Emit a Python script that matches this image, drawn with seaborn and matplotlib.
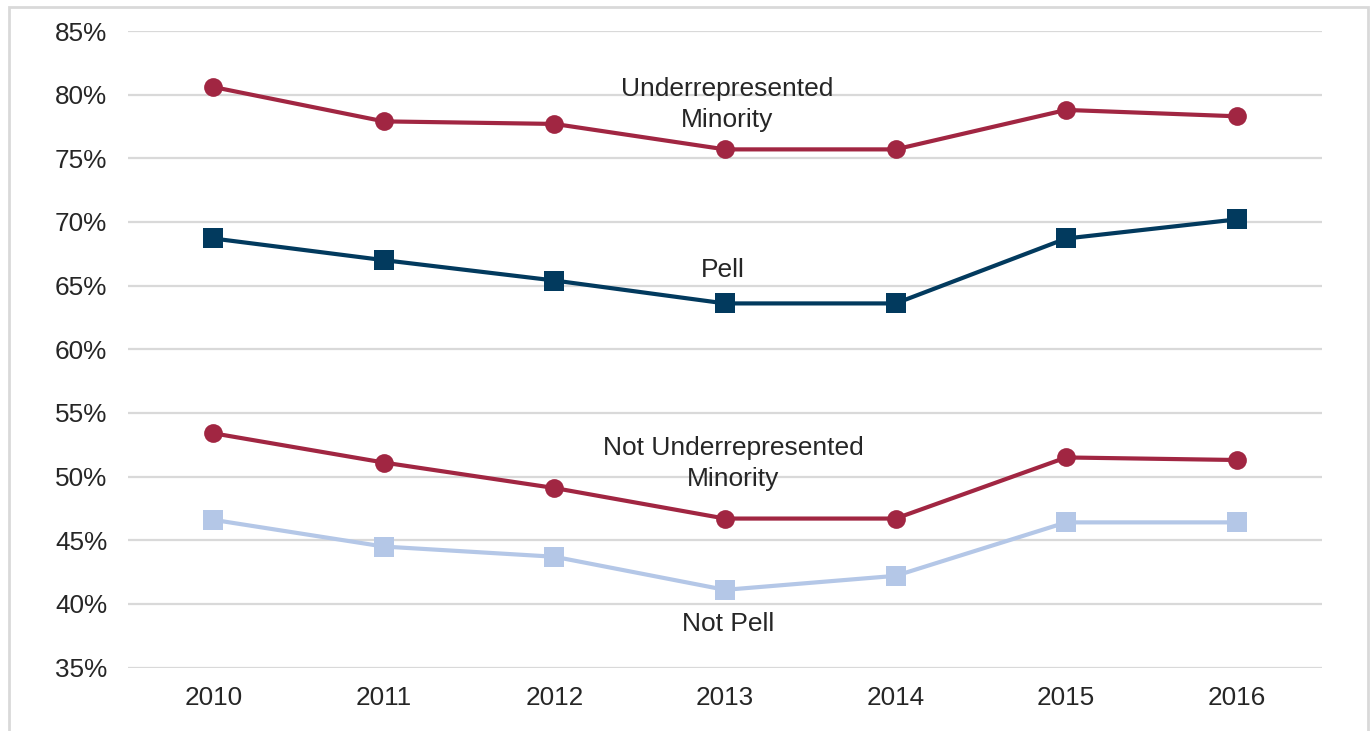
import matplotlib
matplotlib.use("Agg")
import matplotlib.pyplot as plt
import matplotlib.patches as mpatches
from matplotlib.ticker import FuncFormatter, MultipleLocator
import seaborn as sns
import pandas as pd

years = ["2010", "2011", "2012", "2013", "2014", "2015", "2016"]
urm = [80.6, 77.9, 77.7, 75.7, 75.7, 78.8, 78.3]
pell = [68.7, 67.0, 65.4, 63.6, 63.6, 68.7, 70.2]
not_urm = [53.4, 51.1, 49.1, 46.7, 46.7, 51.5, 51.3]
not_pell = [46.6, 44.5, 43.7, 41.1, 42.2, 46.4, 46.4]

series_names = ["Underrepresented Minority", "Pell", "Not Underrepresented Minority", "Not Pell"]
series_values = [urm, pell, not_urm, not_pell]
series_colors = ["#A12642", "#023A5E", "#A12642", "#B4C7E7"]
series_markers = ["o", "s", "o", "s"]
series_msize = [13.5, 14.5, 13.5, 14.5]

labels_text = ["Underrepresented\nMinority", "Pell", "Not Underrepresented\nMinority", "Not Pell"]
labels_pos = [(3.01, 79.25), (2.99, 66.2), (3.05, 51.0), (3.02, 38.4)]

sns.set_theme(style="white")
plt.rcParams["font.family"] = ["Liberation Sans", "DejaVu Sans"]

fig = plt.figure(figsize=(13.72, 7.31), dpi=100)
ax = fig.add_axes([128 / 1372, 1 - 667.5 / 731, (1322 - 128) / 1372, (667.5 - 31) / 731])

for name, vals, col, mk, ms in zip(series_names, series_values, series_colors,
                                   series_markers, series_msize):
    df = pd.DataFrame({"year": list(range(len(years))), "value": vals})
    sns.lineplot(data=df, x="year", y="value", ax=ax, color=col, linewidth=3.0,
                 marker=mk, markersize=ms, markeredgewidth=0, zorder=3)

for txt, (x, y) in zip(labels_text, labels_pos):
    ax.text(x, y, txt, ha="center", va="center", fontsize=19, color="#262626",
            linespacing=1.38, zorder=4)

ax.set_xlim(-0.5, len(years) - 0.5)
ax.set_ylim(35, 85)
ax.set_xticks(range(len(years)))
ax.set_xticklabels(years)
ax.yaxis.set_major_locator(MultipleLocator(5))
ax.yaxis.set_major_formatter(FuncFormatter(lambda v, p: f"{v:.0f}%"))
ax.set_xlabel("")
ax.set_ylabel("")
ax.grid(axis="y", color="#D9D9D9", linewidth=1.6)
ax.grid(axis="x", visible=False)
ax.set_axisbelow(True)
for s in ax.spines.values():
    s.set_visible(False)
ax.tick_params(axis="both", length=0, labelsize=18.8, colors="#262626")
ax.tick_params(axis="y", pad=15)
ax.tick_params(axis="x", pad=13)

# outer chart frame
frame = mpatches.Rectangle((9 / 1372, -0.05), (1368 - 9) / 1372, 1.05 - 7 / 731,
                           transform=fig.transFigure, fill=False,
                           edgecolor="#D9D9D9", linewidth=2)
fig.patches.append(frame)

fig.savefig("out.png", dpi=100)
